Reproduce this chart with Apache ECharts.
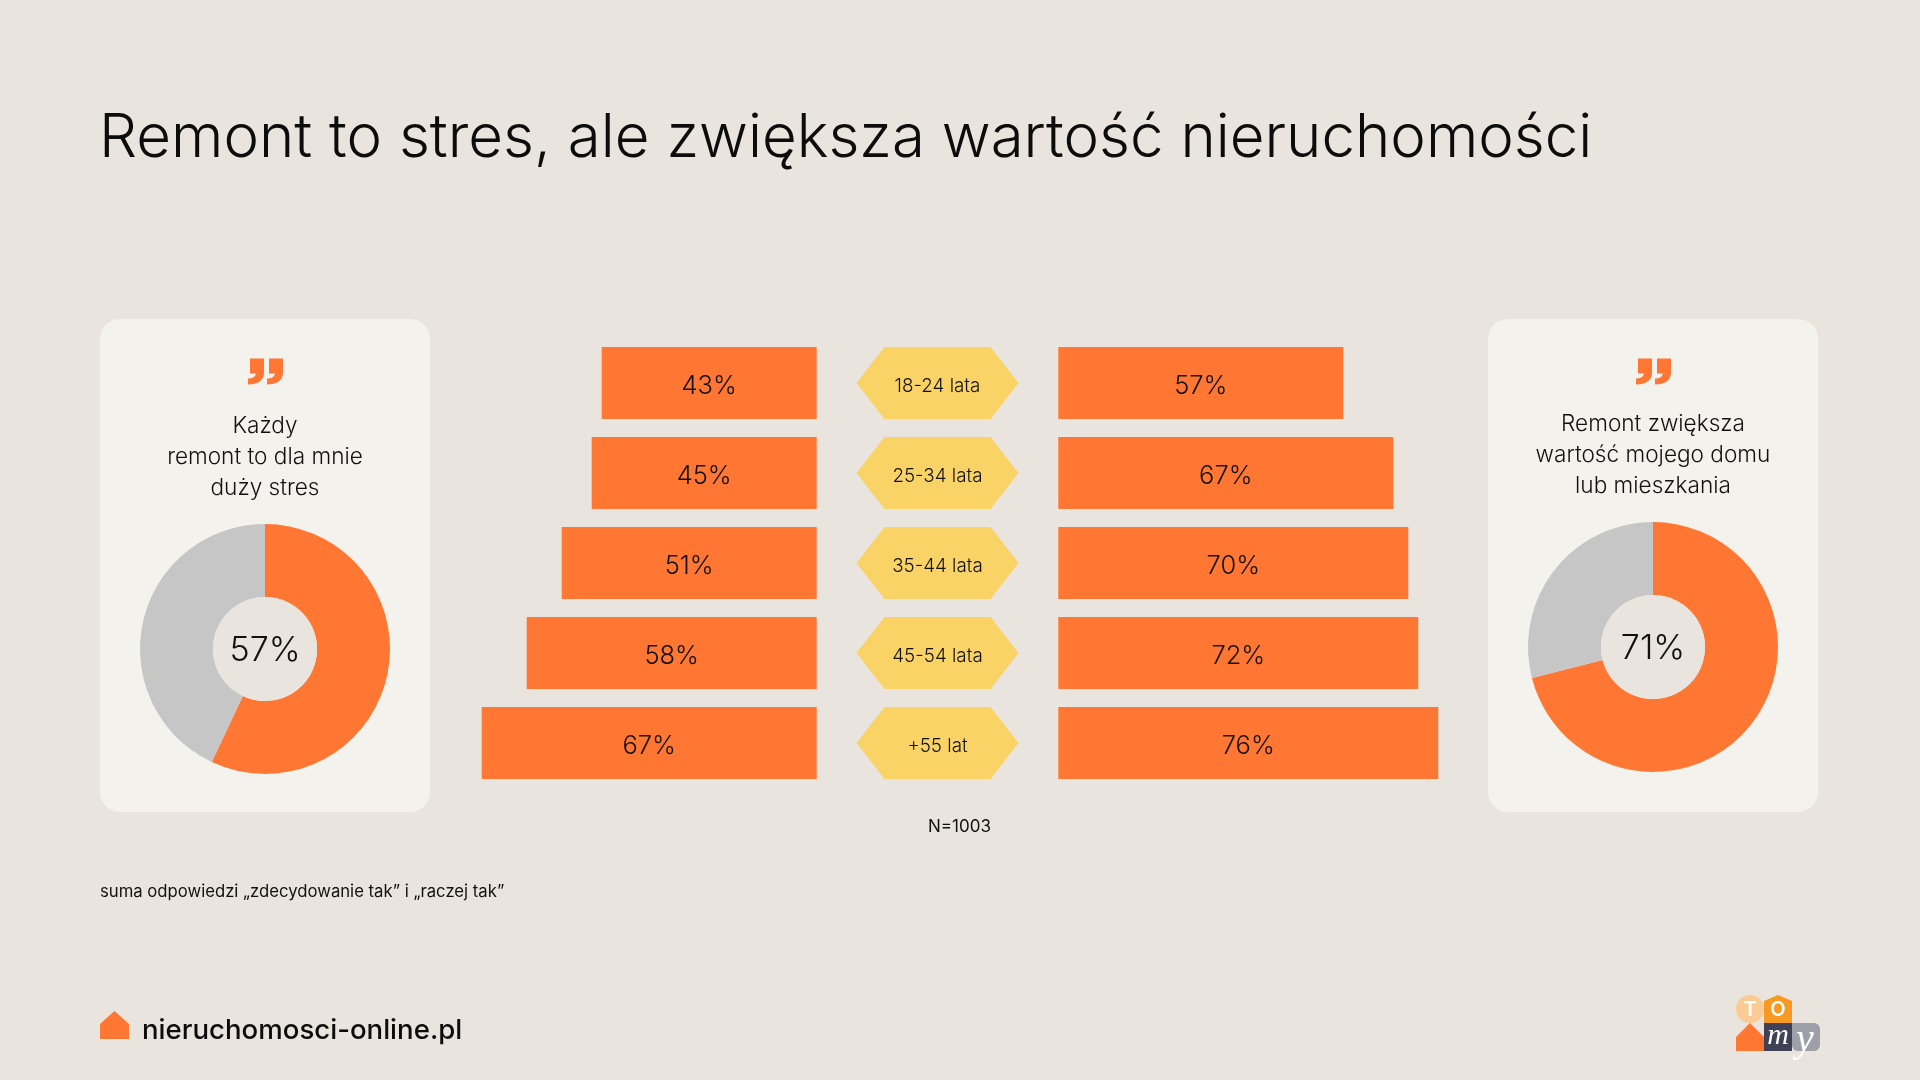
<!DOCTYPE html>
<html lang="pl">
<head>
<meta charset="utf-8">
<title>Remont to stres</title>
<style>html,body{margin:0;padding:0;background:#e9e5de}#c{width:1920px;height:1080px}</style>
<script src="https://cdn.jsdelivr.net/npm/echarts@6/dist/echarts.min.js"></script>
</head>
<body>
<div id="c"></div>
<script>
const ageGroups = ['18-24 lata','25-34 lata','35-44 lata','45-54 lata','+55 lat'];
const stressByAge = [43,45,51,58,67];
const valueByAge = [57,67,70,72,76];
const stressTotal = 57;
const valueTotal = 71;
const titleText = 'Remont to stres, ale zwiększa wartość nieruchomości';
const leftCaption = ['Każdy','remont to dla mnie','duży stres'];
const rightCaption = ['Remont zwiększa','wartość mojego domu','lub mieszkania'];
const sampleNote = 'N=1003';
const footNote = 'suma odpowiedzi „zdecydowanie tak” i „raczej tak”';
const brand = 'nieruchomosci-online.pl';

const FONT = 'Inter';
const ORANGE = '#ff7733', GRAY = '#c6c6c6', YELLOW = '#fad366', BG = '#e9e5de', PANEL = '#f4f2ed', INK = '#111111';
const chart = echarts.init(document.getElementById('c'), null, {renderer:'canvas'});

const hexPath = 'path://M28,0 L134,0 L162,36 L134,72 L28,72 L0,36 Z';
const quotePath = 'M2,0 H16 V14 C16,22 10,26 0,26 V20 C4,20 7,19 8,15 H2 Z M21,0 H35 V14 C35,22 29,26 19,26 V20 C23,20 26,19 27,15 H21 Z';
echarts.graphic.registerShape('quoteMark', echarts.graphic.extendPath(quotePath));

function donut(cx, cy, total){
  return [{
    type:'pie', center:[cx,cy], radius:[52,125], startAngle:90, silent:true, z:3,
    label:{show:false}, labelLine:{show:false},
    data:[{value:total,itemStyle:{color:ORANGE}},{value:100-total,itemStyle:{color:GRAY}}]
  },{
    type:'pie', center:[cx,cy], radius:[0,52], silent:true, z:3,
    labelLine:{show:false},
    label:{show:true,position:'center',formatter:total+'%',fontFamily:FONT,fontWeight:300,fontSize:34,color:INK,offset:[0,1.5]},
    data:[{value:total,itemStyle:{color:BG}}]
  }];
}
function caption(lines, cx, ys){
  return lines.map((t,i)=>({type:'text',z:10,style:{text:t,x:cx,y:ys[i],align:'center',verticalAlign:'middle',font:'300 22.6px '+FONT,fill:INK}}));
}
function quote(x){
  return {type:'quoteMark',z:10,x:x,y:358.5,style:{fill:ORANGE}};
}
const catAxis = (i)=>({type:'category',gridIndex:i,data:ageGroups,inverse:true,axisLine:{show:false},axisTick:{show:false},axisLabel:{show:false},splitLine:{show:false}});
const valAxis = (i,extra)=>Object.assign({type:'value',gridIndex:i,min:0,max:100,axisLine:{show:false},axisTick:{show:false},axisLabel:{show:false},splitLine:{show:false}},extra||{});
const barLabel = {show:true,position:'inside',formatter:'{c}%',fontFamily:FONT,fontWeight:300,fontSize:25.5,color:INK,offset:[0,3.5]};

chart.setOption({
  animation:false,
  backgroundColor:BG,
  title:{text:titleText,left:94,top:104,textStyle:{fontFamily:FONT,fontWeight:300,fontSize:60,color:'#0c0c0c'}},
  grid:[
    {left:316.7,top:338,width:500,height:450},
    {left:1058.3,top:338,width:500,height:450},
    {left:856.5,top:338,width:162,height:450}
  ],
  xAxis:[valAxis(0,{inverse:true}),valAxis(1),{type:'value',gridIndex:2,min:-1,max:1,show:false}],
  yAxis:[catAxis(0),catAxis(1),catAxis(2)],
  series:[
    {type:'bar',xAxisIndex:0,yAxisIndex:0,data:stressByAge,barWidth:72,itemStyle:{color:ORANGE},label:barLabel,silent:true},
    {type:'bar',xAxisIndex:1,yAxisIndex:1,data:valueByAge,barWidth:72,itemStyle:{color:ORANGE},label:barLabel,silent:true},
    {type:'scatter',xAxisIndex:2,yAxisIndex:2,symbol:hexPath,symbolSize:[162,72],silent:true,
      data:ageGroups.map(a=>[0,a]),itemStyle:{color:YELLOW,opacity:1},
      label:{show:true,position:'inside',formatter:p=>p.value[1],fontFamily:FONT,fontWeight:300,fontSize:18.8,color:INK,offset:[0,3]}},
    ...donut(265,649,stressTotal),
    ...donut(1653,647,valueTotal)
  ],
  graphic:{elements:[
    {type:'rect',z:0,shape:{x:100,y:319,width:330,height:493,r:20},style:{fill:PANEL}},
    {type:'rect',z:0,shape:{x:1488,y:319,width:330,height:493,r:20},style:{fill:PANEL}},
    quote(248),quote(1636),
    ...caption(leftCaption,265,[426,457.5,488]),
    ...caption(rightCaption,1653,[424,455,486]),
    {type:'text',z:10,style:{text:sampleNote,x:959.5,y:827,align:'center',verticalAlign:'middle',font:'400 17px '+FONT,fill:INK}},
    {type:'text',z:10,style:{text:footNote,x:100,y:892,align:'left',verticalAlign:'middle',font:'400 16.7px '+FONT,fill:INK}},
    {type:'polygon',z:10,shape:{points:[[114.5,1011],[129,1024],[129,1039],[100,1039],[100,1024]]},style:{fill:ORANGE}},
    {type:'text',z:10,style:{text:brand,x:142,y:1031,align:'left',verticalAlign:'middle',font:'500 27.6px '+FONT,fill:'#0c0c0c'}},
    {type:'circle',z:10,shape:{cx:1750,cy:1009,r:14},style:{fill:'#fbcb95'}},
    {type:'text',z:11,style:{text:'T',x:1750,y:1010,align:'center',verticalAlign:'middle',font:'600 20px '+FONT,fill:'#fff'}},
    {type:'polygon',z:10,shape:{points:[[1764,1001],[1778,995],[1792,1001],[1792,1023],[1764,1023]]},style:{fill:'#f79a22'}},
    {type:'text',z:11,style:{text:'O',x:1778,y:1010,align:'center',verticalAlign:'middle',font:'600 20px '+FONT,fill:'#fff'}},
    {type:'polygon',z:10,shape:{points:[[1750,1023],[1764,1037],[1764,1051],[1736,1051],[1736,1037]]},style:{fill:ORANGE}},
    {type:'rect',z:10,shape:{x:1764,y:1023,width:28,height:28},style:{fill:'#3f4156'}},
    {type:'rect',z:10,shape:{x:1792,y:1023,width:28,height:28,r:[0,6,6,6]},style:{fill:'#9d9fa9'}},
    {type:'text',z:11,style:{text:'m',x:1778,y:1036,align:'center',verticalAlign:'middle',font:'italic 30px "Liberation Serif"',fill:'#fff'}},
    {type:'text',z:11,style:{text:'y',x:1805,y:1040,align:'center',verticalAlign:'middle',font:'italic 40px "Liberation Serif"',fill:'#fff'}}
  ]}
});
</script>
</body>
</html>
